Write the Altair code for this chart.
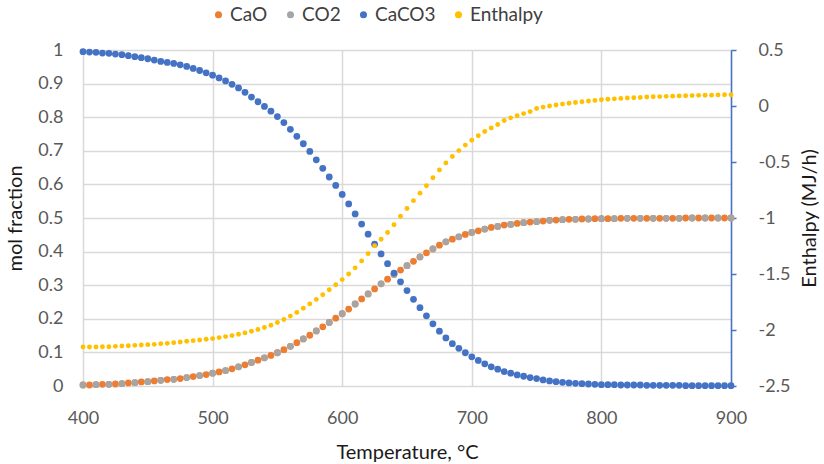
import altair as alt
import pandas as pd

# Temperatures (°C)
temps = list(range(400, 905, 5))
temps_co2 = list(range(400, 910, 10))

caco3 = [
    0.995, 0.994, 0.993, 0.991, 0.990, 0.988, 0.986, 0.983, 0.980, 0.977,
    0.974, 0.970, 0.966, 0.963, 0.960, 0.956, 0.951, 0.945, 0.939, 0.932,
    0.925, 0.917, 0.908, 0.898, 0.887, 0.874, 0.860, 0.846, 0.832, 0.818,
    0.802, 0.784, 0.764, 0.743, 0.721, 0.698, 0.673, 0.648, 0.622, 0.597,
    0.570, 0.542, 0.512, 0.482, 0.452, 0.422, 0.393, 0.364, 0.336, 0.310,
    0.284, 0.258, 0.233, 0.209, 0.185, 0.163, 0.143, 0.126, 0.112, 0.099,
    0.087, 0.076, 0.066, 0.057, 0.050, 0.043, 0.038, 0.033, 0.029, 0.025,
    0.022, 0.018, 0.015, 0.013, 0.011, 0.009, 0.008, 0.007, 0.006, 0.005,
    0.004, 0.004, 0.004, 0.003, 0.003, 0.003, 0.003, 0.002, 0.002, 0.002,
    0.002, 0.002, 0.002, 0.001, 0.001, 0.001, 0.001, 0.001, 0.001, 0.001,
    0.001,
]

cao = [
    0.003, 0.003, 0.004, 0.005, 0.005, 0.006, 0.007, 0.009, 0.010, 0.012,
    0.013, 0.015, 0.017, 0.019, 0.020, 0.022, 0.025, 0.028, 0.031, 0.034,
    0.038, 0.042, 0.046, 0.051, 0.057, 0.063, 0.070, 0.077, 0.084, 0.091,
    0.099, 0.108, 0.118, 0.129, 0.140, 0.151, 0.164, 0.176, 0.189, 0.202,
    0.215, 0.229, 0.244, 0.259, 0.274, 0.289, 0.304, 0.318, 0.332, 0.345,
    0.358, 0.371, 0.384, 0.396, 0.408, 0.419, 0.429, 0.437, 0.444, 0.451,
    0.457, 0.462, 0.467, 0.472, 0.475, 0.479, 0.481, 0.484, 0.486, 0.488,
    0.489, 0.491, 0.493, 0.494, 0.495, 0.496, 0.496, 0.497, 0.497, 0.498,
    0.498, 0.498, 0.498, 0.499, 0.499, 0.499, 0.499, 0.499, 0.499, 0.499,
    0.499, 0.499, 0.499, 0.500, 0.500, 0.500, 0.500, 0.500, 0.500, 0.500,
    0.500,
]

co2 = [
    0.003, 0.004, 0.005, 0.007, 0.010, 0.013, 0.017, 0.020, 0.025, 0.031,
    0.038, 0.046, 0.057, 0.070, 0.084, 0.099, 0.118, 0.140, 0.164, 0.189,
    0.215, 0.244, 0.274, 0.304, 0.332, 0.358, 0.384, 0.408, 0.429, 0.444,
    0.457, 0.467, 0.475, 0.481, 0.486, 0.489, 0.493, 0.495, 0.496, 0.497,
    0.498, 0.498, 0.499, 0.499, 0.499, 0.499, 0.499, 0.500, 0.500, 0.500,
    0.500,
]

enthalpy = [
    -2.152, -2.152, -2.152, -2.149, -2.149, -2.146, -2.143, -2.140, -2.137, -2.134,
    -2.131, -2.128, -2.122, -2.119, -2.113, -2.107, -2.101, -2.095, -2.089, -2.083,
    -2.077, -2.068, -2.059, -2.050, -2.038, -2.026, -2.011, -1.996, -1.978, -1.957,
    -1.933, -1.906, -1.876, -1.843, -1.806, -1.767, -1.727, -1.685, -1.641, -1.596,
    -1.550, -1.500, -1.445, -1.383, -1.318, -1.248, -1.190, -1.130, -1.060, -0.985,
    -0.915, -0.845, -0.778, -0.712, -0.640, -0.571, -0.508, -0.451, -0.398, -0.349,
    -0.306, -0.265, -0.228, -0.196, -0.165, -0.130, -0.106, -0.087, -0.068, -0.050,
    -0.022, -0.010, 0.000, 0.009, 0.017, 0.024, 0.031, 0.038, 0.044, 0.050,
    0.056, 0.060, 0.064, 0.068, 0.071, 0.074, 0.077, 0.080, 0.082, 0.084,
    0.086, 0.088, 0.090, 0.092, 0.093, 0.095, 0.096, 0.097, 0.099, 0.100,
    0.101,
]

series_names = ["CaO", "CO2", "CaCO3", "Enthalpy"]
series_colors = ["#ED7D31", "#A5A5A5", "#4472C4", "#FFC000"]
left_ticks = [0, 0.1, 0.2, 0.3, 0.4, 0.5, 0.6, 0.7, 0.8, 0.9, 1]
right_ticks = [-2.5, -2, -1.5, -1, -0.5, 0, 0.5]
x_ticks = [400, 500, 600, 700, 800, 900]

mol_df = pd.concat([
    pd.DataFrame({"T": temps, "v": cao, "series": "CaO"}),
    pd.DataFrame({"T": temps_co2, "v": co2, "series": "CO2"}),
    pd.DataFrame({"T": temps, "v": caco3, "series": "CaCO3"}),
], ignore_index=True)
enth_df = pd.DataFrame({"T": temps, "h": enthalpy, "series": "Enthalpy"})

FONT = "Lato"
LABEL_SIZE = 18
TITLE_SIZE = 20
LABEL_COLOR = "#595959"
TITLE_COLOR = "#1a1a1a"
PLOT_W = 648
PLOT_H = 336

color = alt.Color(
    "series:N",
    scale=alt.Scale(domain=series_names, range=series_colors),
    legend=alt.Legend(
        title=None, orient="none", legendX=126, legendY=-45,
        direction="horizontal", symbolType="circle", symbolSize=50,
        symbolStrokeWidth=0, labelFont=FONT, labelFontSize=19,
        labelColor="#404040", columnPadding=13, labelOffset=2,
    ),
)

common_axis = dict(
    labelFont=FONT, labelFontSize=LABEL_SIZE, labelColor=LABEL_COLOR,
    titleFont=FONT, titleFontSize=TITLE_SIZE, titleFontWeight="normal",
    titleColor=TITLE_COLOR, gridColor="#D9D9D9", gridWidth=1.5,
)

xenc = alt.X(
    "T:Q",
    scale=alt.Scale(domain=[400, 900], nice=False),
    axis=alt.Axis(
        title="Temperature, °C", values=x_ticks, grid=True, domain=False,
        ticks=False, labelPadding=23, labelFlush=False,
        titleX=PLOT_W / 2, titleY=66, titleAlign="center",
        titleBaseline="middle",
        **common_axis,
    ),
)

mol = alt.Chart(mol_df).mark_circle(size=46, opacity=1).encode(
    x=xenc,
    y=alt.Y(
        "v:Q",
        scale=alt.Scale(domain=[0, 1], nice=False),
        axis=alt.Axis(
            title="mol fraction", orient="left", values=left_ticks, grid=True,
            domain=False, ticks=False, labelPadding=20,
            labelExpr="'' + datum.value", labelFlush=False,
            titleX=-68, titleY=PLOT_H / 2, titleAngle=270,
            titleAlign="center", titleBaseline="middle",
            **common_axis,
        ),
    ),
    color=color,
    order=alt.Order("idx:Q"),
).transform_window(idx="row_number()")

enth = alt.Chart(enth_df).mark_circle(size=24, opacity=1).encode(
    x=xenc,
    y=alt.Y(
        "h:Q",
        scale=alt.Scale(domain=[-2.5, 0.5], nice=False),
        axis=alt.Axis(
            title="Enthalpy (MJ/h)", orient="right", values=right_ticks,
            grid=False, domain=True, domainColor="#4472C4", domainWidth=1.5,
            ticks=True, tickColor="#4472C4", tickSize=5, tickWidth=1.5,
            labelPadding=22, labelExpr="'' + datum.value", labelFlush=False,
            titleX=78, titleY=PLOT_H / 2, titleAngle=270,
            titleAlign="center", titleBaseline="middle",
            **common_axis,
        ),
    ),
    color=color,
)

chart = alt.layer(mol, enth).resolve_scale(y="independent").properties(
    width=PLOT_W, height=PLOT_H,
    autosize=alt.AutoSizeParams(type="none"),
    padding={"left": 83, "top": 50, "right": 93, "bottom": 78},
).configure_view(stroke=None)

chart.save("out.html", embed_options={"renderer": "svg", "actions": False})
